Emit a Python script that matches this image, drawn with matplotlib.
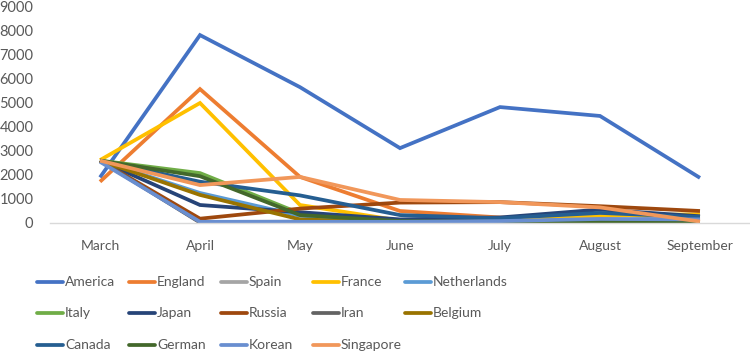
import matplotlib
matplotlib.use("Agg")
import matplotlib.pyplot as plt
from matplotlib.lines import Line2D

months = ["March", "April", "May", "June", "July", "August", "September"]
countries = ["America", "England", "Spain", "France", "Netherlands",
             "Italy", "Japan", "Russia", "Iran", "Belgium",
             "Canada", "German", "Korean", "Singapore"]

America = [1900, 7830, 5660, 3120, 4830, 4460, 1880]
England = [1720, 5580, 1920, 500, 230, 120, 100]
Spain = [2600, 40, 60, 60, 200, 400, 150]
France = [2620, 5000, 750, 100, 100, 290, 370]
Netherlands = [2600, 1250, 300, 120, 80, 100, 100]
Italy = [2600, 2080, 400, 100, 50, 30, 20]
Japan = [2600, 750, 450, 150, 230, 560, 280]
Russia = [2600, 180, 600, 850, 870, 700, 500]
Iran = [2600, 20, 20, 20, 20, 30, 30]
Belgium = [2600, 1170, 150, 30, 20, 20, 20]
Canada = [2600, 1720, 1150, 330, 200, 420, 250]
German = [2600, 1950, 330, 80, 50, 30, 20]
Korean = [2550, 50, 50, 50, 80, 170, 150]
Singapore = [2600, 1580, 1920, 960, 870, 650, 60]

series = [America, England, Spain, France, Netherlands, Italy, Japan,
          Russia, Iran, Belgium, Canada, German, Korean, Singapore]
colors = ["#4472C4", "#ED7D31", "#A5A5A5", "#FFC000", "#5B9BD5",
          "#70AD47", "#264478", "#9E480E", "#636363", "#997300",
          "#255E91", "#43682B", "#698ED0", "#F1975A"]

plt.rcParams['font.family'] = ['Lato', 'DejaVu Sans']
txtc = "#595959"

fig = plt.figure(figsize=(7.5, 3.54), dpi=100)
W, H = 750, 354
ax = fig.add_axes([50 / W, 1 - 223 / H, 700 / W, (223 - 7) / H])
x = list(range(len(months)))
for vals, c in zip(series, colors):
    ax.plot(x, vals, color=c, lw=2.7, solid_joinstyle='miter', solid_capstyle='butt')

ax.set_xlim(-0.5, 6.5)
ax.set_ylim(0, 9000)
ax.set_yticks(range(0, 9001, 1000))
ax.set_xticks(x)
ax.set_xticklabels(months)
for s in ["top", "right", "left"]:
    ax.spines[s].set_visible(False)
ax.spines["bottom"].set_color("#D9D9D9")
ax.spines["bottom"].set_linewidth(1.0)
ax.tick_params(axis='both', length=0, labelcolor=txtc)
ax.tick_params(axis='y', pad=12, labelsize=10.5)
ax.tick_params(axis='x', pad=12, labelsize=10)

# legend (row-major like the original)
col_x = [37, 129, 221, 313, 405]
row_y = [282, 313, 345]
for i, (name, c) in enumerate(zip(countries, colors)):
    r, k = divmod(i, 5)
    x0 = col_x[k]
    y0 = row_y[r]
    fig.add_artist(Line2D([x0 / W, (x0 + 26) / W], [1 - y0 / H, 1 - y0 / H],
                          color=c, lw=2.7, solid_capstyle='round',
                          transform=fig.transFigure))
    fig.text((x0 + 28) / W, 1 - y0 / H, name, color=txtc, fontsize=10,
             va='center', ha='left')

fig.savefig("out.png", dpi=100)
